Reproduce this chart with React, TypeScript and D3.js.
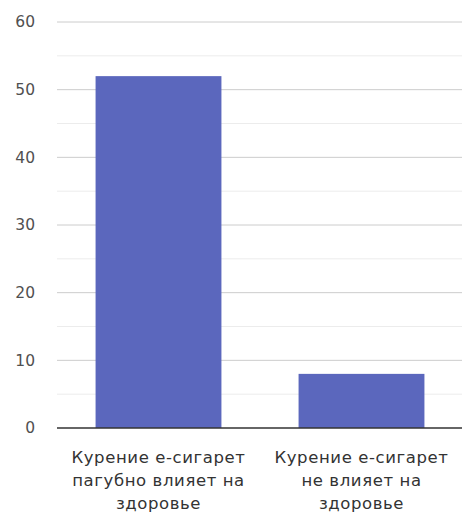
import * as d3 from 'd3'

const categories = [
  ['Курение е-сигарет', 'пагубно влияет на', 'здоровье'],
  ['Курение е-сигарет', 'не влияет на', 'здоровье'],
]
const values = [52, 8]
const majorTicks = [0, 10, 20, 30, 40, 50, 60]
const minorTicks = [5, 15, 25, 35, 45, 55]

export default function App() {
  const w = 462
  const h = 512
  const left = 57
  const right = 463
  const top = 22
  const bottom = 428

  const x = d3.scaleBand<number>()
    .domain(categories.map((_, i) => i))
    .range([left, right])
    .paddingInner(0.38)
    .paddingOuter(0.19)

  const y = d3.scaleLinear().domain([0, 60]).range([bottom, top])

  return (
    <svg width={w} height={h} style={{ position: 'absolute', left: 0, top: 0, fontFamily: 'DejaVu Sans, sans-serif' }}>
      <rect width={w} height={h} fill="#fff" />
      {minorTicks.map(t => (
        <line key={'m' + t} x1={left} x2={w} y1={y(t)} y2={y(t)} stroke="#ececec" />
      ))}
      {majorTicks.filter(t => t > 0).map(t => (
        <line key={'g' + t} x1={left} x2={w} y1={y(t)} y2={y(t)} stroke="#cccccc" />
      ))}
      {majorTicks.map(t => (
        <text key={'t' + t} x={35} y={y(t)} dy="0.35em" textAnchor="end" fontSize={15.5} fill="#505050">{t}</text>
      ))}
      {values.map((v, i) => (
        <rect key={i} x={x(i)} y={y(v)} width={x.bandwidth()} height={y(0) - y(v)} fill="#5b67bd" />
      ))}
      <line x1={left} x2={w} y1={y(0)} y2={y(0)} stroke="#333" strokeWidth={1.5} />
      {categories.map((lines, i) => (
        <text key={'c' + i} x={(x(i) as number) + x.bandwidth() / 2} textAnchor="middle" fontSize={16.5} letterSpacing={0.6} fill="#333">
          {lines.map((l, j) => (
            <tspan key={j} x={(x(i) as number) + x.bandwidth() / 2} y={463 + j * 23}>{l}</tspan>
          ))}
        </text>
      ))}
    </svg>
  )
}
